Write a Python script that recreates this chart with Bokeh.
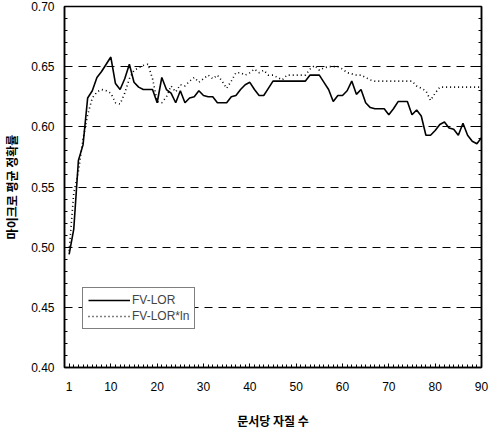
from bokeh.plotting import figure
from bokeh.models import Range1d, FixedTicker, LinearAxis, Legend, LegendItem, CustomJSTickFormatter
from bokeh.embed import file_html
from bokeh.resources import INLINE

x_vals = list(range(1, 91))
fv_lor = [0.494, 0.515, 0.572, 0.585, 0.624, 0.630, 0.641, 0.646, 0.652, 0.658,
          0.636, 0.631, 0.640, 0.652, 0.637, 0.633, 0.631, 0.631, 0.631, 0.620,
          0.641, 0.631, 0.628, 0.620, 0.630, 0.620, 0.624, 0.625, 0.630, 0.626,
          0.625, 0.625, 0.620, 0.620, 0.620, 0.625, 0.626, 0.631, 0.635, 0.637,
          0.631, 0.626, 0.626, 0.632, 0.638, 0.638, 0.638, 0.638, 0.638, 0.638,
          0.638, 0.638, 0.643, 0.643, 0.643, 0.637, 0.631, 0.621, 0.626, 0.626,
          0.630, 0.638, 0.627, 0.631, 0.620, 0.616, 0.615, 0.615, 0.615, 0.610,
          0.615, 0.621, 0.621, 0.621, 0.610, 0.614, 0.609, 0.593, 0.593, 0.597,
          0.602, 0.604, 0.599, 0.598, 0.593, 0.603, 0.593, 0.588, 0.586, 0.591]
fv_lor_ln = [0.497, 0.545, 0.563, 0.590, 0.610, 0.624, 0.629, 0.631, 0.630, 0.628,
             0.620, 0.619, 0.628, 0.640, 0.647, 0.649, 0.651, 0.652, 0.640, 0.621,
             0.620, 0.625, 0.634, 0.629, 0.635, 0.634, 0.638, 0.641, 0.637, 0.640,
             0.643, 0.640, 0.643, 0.638, 0.632, 0.638, 0.645, 0.645, 0.643, 0.645,
             0.648, 0.645, 0.647, 0.643, 0.643, 0.641, 0.639, 0.643, 0.643, 0.643,
             0.643, 0.643, 0.648, 0.651, 0.647, 0.649, 0.650, 0.650, 0.650, 0.648,
             0.645, 0.644, 0.643, 0.643, 0.641, 0.639, 0.638, 0.638, 0.638, 0.638,
             0.638, 0.638, 0.638, 0.638, 0.638, 0.634, 0.632, 0.630, 0.622, 0.628,
             0.633, 0.633, 0.633, 0.633, 0.633, 0.633, 0.633, 0.633, 0.633, 0.633]
x_ticks = [1, 10, 20, 30, 40, 50, 60, 70, 80, 90]
y_ticks = [0.40, 0.45, 0.50, 0.55, 0.60, 0.65, 0.70]
series_names = ["FV-LOR", "FV-LOR*ln"]
x_title = "문서당 자질 수"
y_title = "마이크로 평균 정확률"

y_minor = [round(0.40 + 0.01 * i, 2) for i in range(31)]
x_minor = list(range(0, 91))

p = figure(width=491, height=435, output_backend="svg", toolbar_location=None,
           x_range=Range1d(0, 90), y_range=Range1d(0.40, 0.70),
           min_border_left=57, min_border_right=10, min_border_top=6, min_border_bottom=68)
p.background_fill_color = "white"
p.border_fill_color = "white"
p.outline_line_color = "black"
p.outline_line_width = 1.5

r1 = p.line(x_vals, fv_lor, line_color="black", line_width=1.6)
r2 = p.line(x_vals, fv_lor_ln, line_color="black", line_width=1.6, line_dash="1 3")

xa = p.xaxis[0]
xa.ticker = FixedTicker(ticks=x_ticks, minor_ticks=x_minor)
ya = p.yaxis[0]
ya.ticker = FixedTicker(ticks=y_ticks, minor_ticks=y_minor)
ya.formatter = CustomJSTickFormatter(code="return tick.toFixed(2);")

for ax in (xa, ya):
    ax.axis_line_color = "black"
    ax.axis_line_width = 1.5
    ax.major_tick_in = 4
    ax.major_tick_out = 0
    ax.minor_tick_in = 3
    ax.minor_tick_out = 0
    ax.major_tick_line_color = "black"
    ax.minor_tick_line_color = "black"
    ax.major_label_text_font = "Liberation Sans"
    ax.major_label_text_font_size = "12px"
    ax.major_label_text_color = "black"
    ax.axis_label_text_font = "Noto Sans CJK KR"
    ax.axis_label_text_font_size = "12px"
    ax.axis_label_text_font_style = "bold"
    ax.axis_label_text_color = "black"

xa.axis_label = x_title
xa.major_label_standoff = 14
xa.axis_label_standoff = 18
ya.axis_label = y_title
ya.major_label_standoff = 10
ya.axis_label_standoff = 8

# right edge ticks (no labels)
ra = LinearAxis(ticker=FixedTicker(ticks=y_ticks, minor_ticks=y_minor),
                major_label_text_font_size="0px", major_tick_in=4, major_tick_out=0,
                minor_tick_in=3, minor_tick_out=0, axis_line_width=1.5,
                major_label_standoff=0)
ra.major_label_text_alpha = 0
ra.major_label_overrides = {t: "" for t in y_ticks}
p.add_layout(ra, "right")

p.xgrid.grid_line_color = None
p.ygrid.grid_line_color = "black"
p.ygrid.grid_line_dash = "8 6"
p.ygrid.grid_line_width = 1

legend = Legend(items=[LegendItem(label=series_names[0], renderers=[r1]),
                       LegendItem(label=series_names[1], renderers=[r2])],
                location=(18, 38), border_line_color="black", border_line_width=1,
                label_text_font="Liberation Sans", label_text_font_size="12px",
                glyph_width=42, glyph_height=14, label_standoff=2, spacing=2,
                padding=5, margin=0, background_fill_color="white", background_fill_alpha=1.0)
p.add_layout(legend, "center")

open("out.html", "w").write(file_html(p, INLINE))
